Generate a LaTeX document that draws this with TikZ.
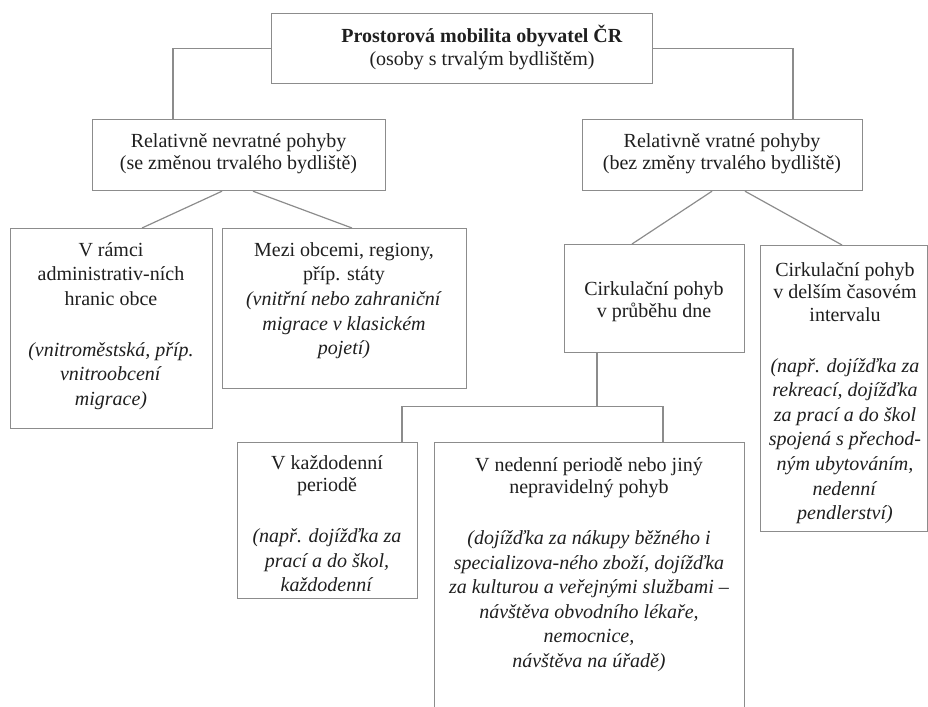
\documentclass[tikz,border=0pt]{standalone}
\usepackage{fontspec}
\setmainfont{Liberation Serif}

\begin{document}
\begin{tikzpicture}[
  x=0.5pt, y=-0.5pt,
  catbox/.style={
    rectangle, draw=black!45, line width=0.6pt, fill=white,
    anchor=north west, inner sep=0pt
  },
  cattext/.style={
    anchor=north, align=center, inner sep=0pt, text=black!88,
    font=\fontsize{10}{12.3}\selectfont
  },
  link/.style={draw=black!45, line width=0.6pt},
]
\useasboundingbox (0,0) rectangle (928,707);

%% ── Boxes ────────────────────────────────────────────────────────────────────
\node[catbox, minimum width=190.5pt, minimum height=35pt]  (top)     at (271,13)  {};
\node[catbox, minimum width=146.5pt, minimum height=35.5pt] (nevrat) at (92,119)  {};
\node[catbox, minimum width=140pt,   minimum height=35.5pt] (vrat)   at (582,119) {};
\node[catbox, minimum width=101pt,   minimum height=100pt]  (ramci)  at (10,228)  {};
\node[catbox, minimum width=122pt,   minimum height=80pt]   (mezi)   at (222,228) {};
\node[catbox, minimum width=90pt,    minimum height=54pt]   (dne)    at (564,244) {};
\node[catbox, minimum width=83.5pt,  minimum height=143pt]  (delsi)  at (760,245) {};
\node[catbox, minimum width=90pt,    minimum height=78pt]   (kazdo)  at (237,442) {};
\node[catbox, minimum width=155pt,   minimum height=159pt]  (neden)  at (434,442) {};

%% ── Texts ────────────────────────────────────────────────────────────────────
\node[cattext] (top-t) at (482,25)
  {\textbf{Prostorová mobilita obyvatel ČR}\\[-1pt] (osoby s trvalým bydlištěm)};

\node[cattext] (nevrat-t) at (238.5,133)
  {Relativně nevratné pohyby\\[-1pt] (se změnou trvalého bydliště)};

\node[cattext] (vrat-t) at (722,133)
  {Relativně vratné pohyby\\[-1pt] (bez změny trvalého bydliště)};

\node[cattext] (ramci-t) at (111,242)
  {V rámci\\ administrativ-ních\\ hranic obce\\[13pt]
   \textit{(vnitroměstská, příp.}\\ \textit{vnitroobcení}\\ \textit{migrace)}};

\node[cattext] (mezi-t) at (344,242)
  {Mezi obcemi, regiony,\\ příp. státy\\
   \textit{(vnitřní nebo zahraniční}\\ \textit{migrace v klasickém}\\ \textit{pojetí)}};

\node[cattext] (dne-t) at (654,281)
  {Cirkulační pohyb\\[-1pt] v průběhu dne};

\node[cattext] (delsi-t) at (845,262)
  {Cirkulační pohyb\\[-1pt] v delším časovém\\[-1pt] intervalu\\[13pt]
   \textit{(např. dojížďka za}\\ \textit{rekreací, dojížďka}\\ \textit{za prací a do škol}\\
   \textit{spojená s přechod-}\\ \textit{ným ubytováním,}\\ \textit{nedenní}\\ \textit{pendlerství)}};

\node[cattext] (kazdo-t) at (327,455)
  {V každodenní\\[-1pt] periodě\\[13pt]
   \textit{(např. dojížďka za}\\ \textit{prací a do škol,}\\ \textit{každodenní}};

\node[cattext] (neden-t) at (589,457)
  {V nedenní periodě nebo jiný\\[-1pt] nepravidelný pohyb\\[13pt]
   \textit{(dojížďka za nákupy běžného i}\\ \textit{specializova-ného zboží, dojížďka}\\
   \textit{za kulturou a veřejnými službami –}\\ \textit{návštěva obvodního lékaře,}\\
   \textit{nemocnice,}\\ \textit{návštěva na úřadě)}};

%% ── Connectors ───────────────────────────────────────────────────────────────
\draw[link] (top.west) -| ([xshift=40.5pt]nevrat.north west);
\draw[link] (top.east) -| ([xshift=105.5pt]vrat.north west);

\draw[link] ([xshift=65pt]nevrat.south west)   -- ([xshift=66pt]ramci.north west);
\draw[link] ([xshift=80.5pt]nevrat.south west) -- ([xshift=65pt]mezi.north west);

\draw[link] ([xshift=65pt]vrat.south west)   -- ([xshift=34pt]dne.north west);
\draw[link] ([xshift=81.5pt]vrat.south west) -- ([xshift=41pt]delsi.north west);

% fork below the daily box
\coordinate (fork) at ([xshift=16.5pt, yshift=-26.5pt]dne.south west);
\draw[link] ([xshift=16.5pt]dne.south west) -- (fork);
\draw[link] ([xshift=82.5pt]kazdo.north west) |- (fork) -| ([xshift=114.5pt]neden.north west);

\end{tikzpicture}
\end{document}
